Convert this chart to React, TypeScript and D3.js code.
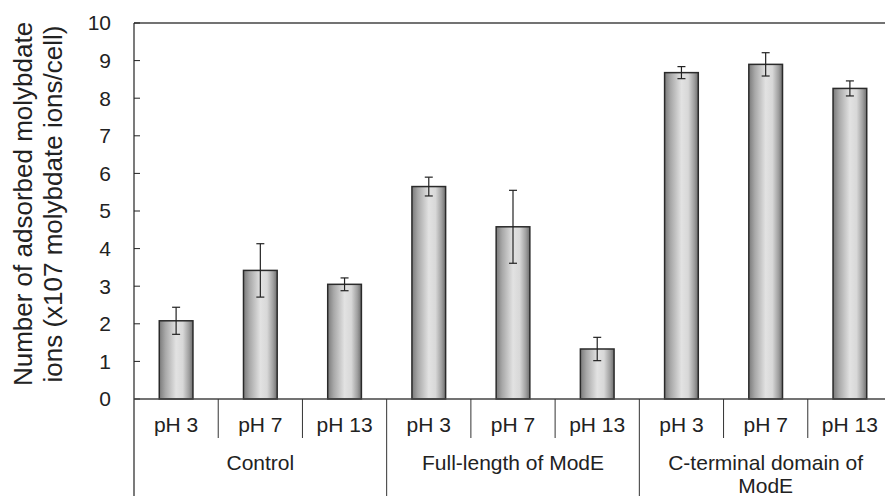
import React from "react";
import * as d3 from "d3";

const width = 885;
const height = 496;
const margin = { top: 23, right: -7, bottom: 97, left: 134 };

const groups = ["Control", "Full-length of ModE", "C-terminal domain of ModE"];
const conditions = ["pH 3", "pH 7", "pH 13"];
const means = [2.08, 3.42, 3.05, 5.65, 4.58, 1.33, 8.68, 8.9, 8.26];
const errors = [0.36, 0.71, 0.17, 0.25, 0.97, 0.31, 0.16, 0.31, 0.2];
const yTicks = [0, 1, 2, 3, 4, 5, 6, 7, 8, 9, 10];

const font = "'Liberation Sans', Arial, sans-serif";

export default function App() {
  const innerW = width - margin.left - margin.right;
  const innerH = height - margin.top - margin.bottom;

  const bars = groups.flatMap((g, gi) =>
    conditions.map((c, ci) => ({
      key: `${gi}-${ci}`,
      group: g,
      cond: c,
      value: means[gi * 3 + ci],
      err: errors[gi * 3 + ci],
    }))
  );

  const x = d3
    .scaleBand<string>()
    .domain(bars.map((d) => d.key))
    .range([0, innerW])
    .paddingInner(0.6)
    .paddingOuter(0.3);
  const step = x.step();
  const y = d3.scaleLinear().domain([0, 10]).range([innerH, 0]);

  const bandStart = (i: number) => i * (innerW / bars.length);

  return (
    <svg
      width={width}
      height={height}
      style={{ position: "absolute", left: 0, top: 0, display: "block" }}
      fontFamily={font}
    >
      <defs>
        <linearGradient id="barGrad" x1="0" x2="1" y1="0" y2="0">
          <stop offset="0" stopColor="#7a7a7a" />
          <stop offset="0.18" stopColor="#a8a8a8" />
          <stop offset="0.5" stopColor="#e2e2e2" />
          <stop offset="0.7" stopColor="#d8d8d8" />
          <stop offset="0.88" stopColor="#a0a0a0" />
          <stop offset="1" stopColor="#6e6e6e" />
        </linearGradient>
      </defs>
      <g transform={`translate(${margin.left},${margin.top})`}>
        {/* top frame line */}
        <line x1={0} x2={innerW} y1={0} y2={0} stroke="#444" strokeWidth={1.5} />

        {/* bars */}
        {bars.map((d) => (
          <rect
            key={d.key}
            x={x(d.key)}
            y={y(d.value)}
            width={x.bandwidth()}
            height={innerH - y(d.value)}
            fill="url(#barGrad)"
            stroke="#2a2a2a"
            strokeWidth={1.5}
          />
        ))}

        {/* error bars */}
        {bars.map((d) => {
          const cx = (x(d.key) as number) + x.bandwidth() / 2;
          return (
            <g key={"e" + d.key} stroke="#222" strokeWidth={1.2}>
              <line x1={cx} x2={cx} y1={y(d.value + d.err)} y2={y(d.value - d.err)} />
              <line x1={cx - 4} x2={cx + 4} y1={y(d.value + d.err)} y2={y(d.value + d.err)} />
              <line x1={cx - 4} x2={cx + 4} y1={y(d.value - d.err)} y2={y(d.value - d.err)} />
            </g>
          );
        })}

        {/* y axis */}
        <line x1={0} x2={0} y1={0} y2={height - margin.top} stroke="#222" strokeWidth={1.2} />
        {yTicks.map((t) => (
          <g key={t} transform={`translate(0,${y(t)})`}>
            <line x1={0} x2={6} stroke="#222" strokeWidth={1} />
            <text x={-23} dy="0.35em" textAnchor="end" fontSize={21} fill="#222">
              {t}
            </text>
          </g>
        ))}

        {/* x axis baseline */}
        <line x1={0} x2={innerW} y1={innerH} y2={innerH} stroke="#444" strokeWidth={1.5} />

        {/* separators between conditions and groups */}
        {bars.map((d, i) =>
          i === 0 ? null : (
            <line
              key={"s" + d.key}
              x1={bandStart(i)}
              x2={bandStart(i)}
              y1={innerH}
              y2={i % 3 === 0 ? height - margin.top : innerH + 39}
              stroke="#333"
              strokeWidth={1}
            />
          )
        )}

        {/* condition labels */}
        {bars.map((d, i) => (
          <text
            key={"c" + d.key}
            x={bandStart(i) + step / 2}
            y={innerH + 26}
            dy="0.35em"
            textAnchor="middle"
            fontSize={21}
            fill="#222"
          >
            {d.cond}
          </text>
        ))}

        {/* group labels */}
        {groups.map((g, gi) => {
          const cx = bandStart(gi * 3) + (step * 3) / 2;
          const lines = gi === 2 ? ["C-terminal domain of", "ModE"] : [g];
          return (
            <text key={g} x={cx} y={innerH + 64} textAnchor="middle" fontSize={21} fill="#222">
              {lines.map((l, li) => (
                <tspan key={li} x={cx} dy={li === 0 ? "0.35em" : 23}>
                  {l}
                </tspan>
              ))}
            </text>
          );
        })}
      </g>

      {/* y axis title */}
      <text
        transform={`translate(23,204) rotate(-90)`}
        textAnchor="middle"
        fontSize={26}
        fill="#222"
      >
        <tspan x={0} dy="0.35em">Number of adsorbed molybdate</tspan>
        <tspan x={0} dy={30}>ions (x107 molybdate ions/cell)</tspan>
      </text>
    </svg>
  );
}
